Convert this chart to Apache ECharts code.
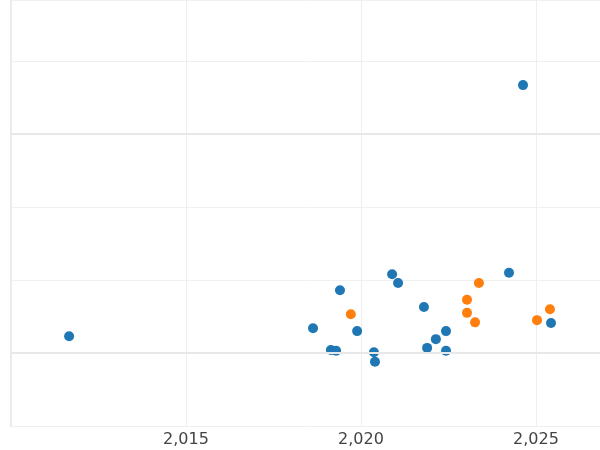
<!DOCTYPE html>
<html>
<head>
<meta charset="utf-8">
<script src="https://cdn.jsdelivr.net/npm/echarts@6/dist/echarts.min.js"></script>
<style>html,body{margin:0;padding:0;background:#fff}#chart{width:600px;height:450px}</style>
</head>
<body>
<div id="chart"></div>
<script>
// series values as [year, value]
const blueData = [
    [2011.66, 0.23], [2018.63, 0.34], [2019.14, 0.04], [2019.29, 0.03], [2019.40, 0.86],
    [2019.89, 0.30], [2020.37, 0.01], [2020.40, -0.12], [2020.89, 1.08], [2021.06, 0.96],
    [2021.80, 0.63], [2021.89, 0.07], [2022.14, 0.19], [2022.43, 0.30], [2022.43, 0.03],
    [2024.23, 1.10], [2024.63, 3.67], [2025.43, 0.41]
];
const orangeData = [
    [2019.71, 0.53], [2023.03, 0.73], [2023.03, 0.55], [2023.26, 0.42],
    [2023.37, 0.96], [2025.03, 0.45], [2025.40, 0.60]
];
const majorLines = [0, 3];

var chart = echarts.init(document.getElementById('chart'));
chart.setOption({
    animation: false,
    grid: { left: 11, right: 0, top: 0, bottom: 24, containLabel: false, outerBoundsMode: 'none' },
    xAxis: {
        type: 'value', min: 2010, max: 2026.83, interval: 5,
        axisLine: { show: false }, axisTick: { show: false },
        axisLabel: {
            color: '#444', fontSize: 16, fontFamily: 'DejaVu Sans', margin: 6,
            showMinLabel: false, showMaxLabel: false
        },
        splitLine: { lineStyle: { color: '#eeeeee', width: 1 } }
    },
    yAxis: {
        type: 'value', min: -1, max: 4.836, interval: 1,
        axisLine: { show: true, lineStyle: { color: '#ebebeb', width: 2 } },
        axisTick: { show: false }, axisLabel: { show: false },
        splitLine: { lineStyle: { color: '#f0f0f0', width: 1 } }
    },
    series: [
        {
            type: 'scatter', data: blueData, symbolSize: 10,
            itemStyle: { color: '#1f77b4', opacity: 1 },
            markLine: {
                silent: true, symbol: 'none', label: { show: false },
                lineStyle: { color: '#e8e8e8', width: 2, type: 'solid' },
                data: majorLines.map(v => ({ yAxis: v }))
            },
            z: 3
        },
        {
            type: 'scatter', data: orangeData, symbolSize: 10,
            itemStyle: { color: '#ff7f0e', opacity: 1 }, z: 3
        }
    ]
});
</script>
</body>
</html>
